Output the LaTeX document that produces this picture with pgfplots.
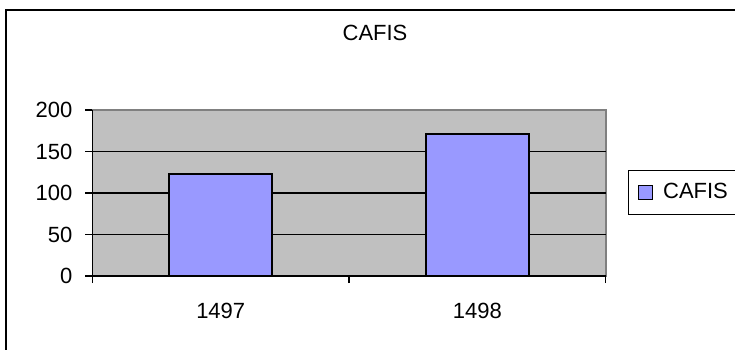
\documentclass[border=0pt]{standalone}
\usepackage{pgfplots}
\pgfplotsset{compat=1.18}
\usepackage{fontspec}
\setmainfont{Liberation Sans}
\definecolor{barfill}{HTML}{9999FF}
\definecolor{plotbg}{HTML}{C0C0C0}
\definecolor{plotborder}{HTML}{808080}
\begin{document}
\begin{tikzpicture}[x=0.5pt,y=0.5pt]
\useasboundingbox (0,0) rectangle (735,349);
% outer chart frame (only left and top edges fall inside the picture)
\draw[line width=1pt] (6,-10) -- (6,339) -- (745,339);
\begin{axis}[
  at={(46.2pt,36.5pt)}, anchor=south west,
  scale only axis, width=256.65pt, height=83pt,
  xmin=-0.5, xmax=1.5, ymin=0, ymax=200,
  axis lines=left,
  axis line style={-, line width=0.8pt, black},
  axis background/.style={fill=plotbg, draw=plotborder, line width=0.8pt},
  tick align=outside,
  major tick length=3.5pt,
  tick style={black, line width=0.6pt},
  xtick={-0.5,0.5,1.5}, xticklabels={},
  extra x ticks={0,1}, extra x tick labels={1497,1498},
  extra x tick style={major tick length=0pt, xticklabel style={anchor=center, yshift=-17.5pt}},
  ytick={0,200},
  extra y ticks={50,100,150},
  extra y tick style={ymajorgrids=true},
  major grid style={black, line width=0.6pt},
  yticklabel style={anchor=east, xshift=-3pt},
  /pgf/number format/assume math mode=true,
  every tick label/.append style={font=\fontsize{11}{13}\selectfont},
  title={CAFIS},
  title style={at={(0.5506,1.45)}, anchor=center, yshift=-5pt, font=\fontsize{11}{13}\selectfont, inner sep=0pt},
  legend style={at={(1.0429,0.504)}, anchor=west, draw=black, line width=0.6pt,
    font=\fontsize{11}{13}\selectfont, inner xsep=4.8pt, inner ysep=4.5pt, fill=white,
    /tikz/every odd column/.append style={column sep=3pt}},
  legend image code/.code={\draw[#1, line width=0.6pt, draw=black] (0pt,-3.5pt) rectangle (7pt,3.5pt);},
]
\addplot[ybar, bar width=0.4, fill=barfill, draw=black, line width=1pt]
  coordinates {(0,123) (1,171)};
\addlegendentry{CAFIS}
\end{axis}
\end{tikzpicture}
\end{document}
